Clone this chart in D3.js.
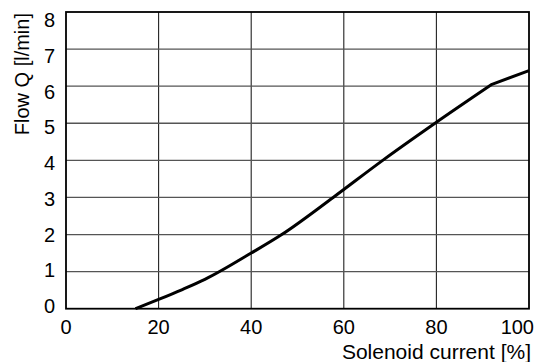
<!DOCTYPE html>
<html><head><meta charset="utf-8">
<script src="https://cdn.jsdelivr.net/npm/d3@7"></script>
<style>body{margin:0;background:#fff}svg{display:block}text{font-family:"Liberation Sans",Arial,sans-serif;fill:#000}</style>
</head><body><svg id="c" width="538" height="362"></svg>
<script>
const current = [15, 20, 25, 30, 40, 46.6, 57.7, 68.4, 79.7, 92, 100];
const flow    = [0, 0.25, 0.51, 0.79, 1.5, 2.0, 3.0, 4.0, 5.0, 6.05, 6.42];
const xTicks = [0, 20, 40, 60, 80, 100];
const yTicks = [0, 1, 2, 3, 4, 5, 6, 7, 8];
const xTitle = "Solenoid current [%]";
const yTitle = "Flow Q [l/min]";

const FONT = '"Liberation Sans",Arial,sans-serif';
const svg = d3.select("#c");
const L = 66, R = 529, T = 12, B = 308.7;
const x = d3.scaleLinear().domain([0, 100]).range([L, R]);
const y = d3.scaleLinear().domain([0, 8]).range([B, T]);
// tick labels in the original sit on a slightly tighter spacing than the grid
const yLab = d3.scaleLinear().domain([0, 8]).range([306, 20]);

// gridlines
svg.append("g").selectAll("line").data(xTicks.slice(1, -1)).join("line")
  .attr("x1", d => x(d)).attr("x2", d => x(d)).attr("y1", T).attr("y2", B)
  .attr("stroke", "#222").attr("stroke-width", 1.1);
svg.append("g").selectAll("line").data(yTicks.slice(1, -1)).join("line")
  .attr("y1", d => y(d)).attr("y2", d => y(d)).attr("x1", L).attr("x2", R)
  .attr("stroke", "#555").attr("stroke-width", 1.3);

// frame
svg.append("rect").attr("x", L).attr("y", T).attr("width", R - L).attr("height", B - T)
  .attr("fill", "none").attr("stroke", "#000").attr("stroke-width", 1.8);

// x tick labels
svg.append("g").selectAll("text").data(xTicks).join("text")
  .attr("x", (d, i) => i === xTicks.length - 1 ? x(d) + 5 : x(d))
  .attr("y", 334)
  .attr("text-anchor", (d, i) => i === xTicks.length - 1 ? "end" : "middle")
  .attr("font-size", 20).attr("font-family", FONT)
  .text(d => d);

// y tick labels
svg.append("g").selectAll("text").data(yTicks).join("text")
  .attr("x", 55).attr("y", d => yLab(d) + 7)
  .attr("text-anchor", "end")
  .attr("font-size", 20).attr("font-family", FONT)
  .text(d => d);

svg.append("text").attr("x", 531).attr("y", 358.5).attr("text-anchor", "end")
  .attr("font-size", 21).text(xTitle);
svg.append("text").attr("transform", `translate(28.5,13) rotate(-90)`)
  .attr("text-anchor", "end").attr("font-size", 20).text(yTitle);

// curve: smooth up to the knee at 92 %, straight after it
const pts = current.map((c, i) => [c, flow[i]]);
const knee = current.indexOf(92);
const smooth = d3.line().x(d => x(d[0])).y(d => y(d[1])).curve(d3.curveMonotoneX);
const straight = d3.line().x(d => x(d[0])).y(d => y(d[1]));
svg.append("path").attr("d", smooth(pts.slice(0, knee + 1)) + straight(pts.slice(knee)).replace(/^M/, "L"))
  .attr("fill", "none").attr("stroke", "#000").attr("stroke-width", 3).attr("stroke-linejoin", "round");
</script></body></html>
